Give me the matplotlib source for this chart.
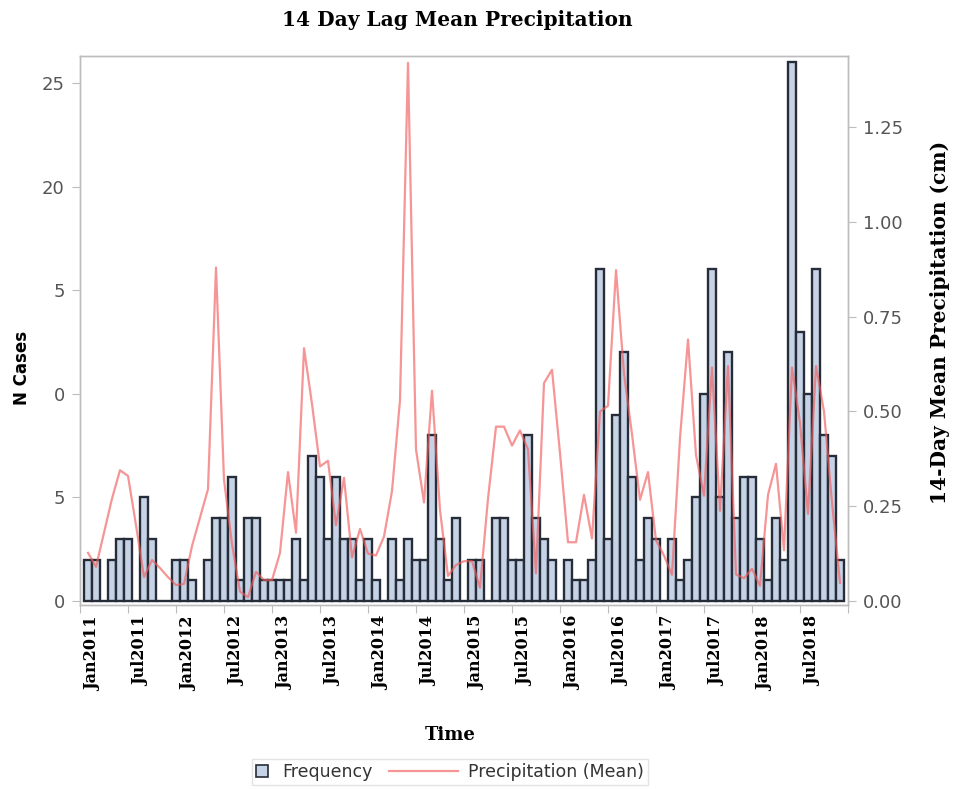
import numpy as np
import matplotlib
matplotlib.use("Agg")
import matplotlib.pyplot as plt
from matplotlib.patches import Patch, Rectangle
from matplotlib.lines import Line2D
from matplotlib.legend_handler import HandlerPatch

# monthly case counts (bars), Jan2011 onwards
cases = [2, 2, 0, 2, 3, 3, 0, 5, 3, 0, 0, 2, 2, 1, 0, 2, 4, 4, 6, 1, 4, 4, 1, 1,
         1, 1, 3, 1, 7, 6, 3, 6, 3, 3, 1, 3, 1, 0, 3, 1, 3, 2, 2, 8, 3, 1, 4, 0,
         2, 2, 0, 4, 4, 2, 2, 8, 4, 3, 2, 0, 2, 1, 1, 2, 16, 3, 9, 12, 6, 2, 4, 3,
         0, 3, 1, 2, 5, 10, 16, 5, 12, 4, 6, 6, 3, 1, 4, 2, 26, 13, 10, 16, 8, 7, 2]

# 14 day lag mean precipitation (cm)
precip = [0.127, 0.09, 0.18, 0.27, 0.345, 0.33, 0.2, 0.063, 0.108, 0.087, 0.063, 0.042,
          0.045, 0.145, 0.22, 0.295, 0.88, 0.32, 0.15, 0.025, 0.01, 0.077, 0.055, 0.055,
          0.127, 0.34, 0.18, 0.667, 0.52, 0.355, 0.37, 0.2, 0.325, 0.115, 0.19, 0.125,
          0.12, 0.17, 0.29, 0.53, 1.42, 0.4, 0.26, 0.555, 0.24, 0.066, 0.095, 0.105,
          0.105, 0.035, 0.27, 0.46, 0.46, 0.41, 0.45, 0.4, 0.073, 0.575, 0.61, 0.39,
          0.155, 0.155, 0.28, 0.165, 0.5, 0.515, 0.873, 0.6, 0.44, 0.267, 0.34, 0.16,
          0.12, 0.069, 0.43, 0.69, 0.385, 0.278, 0.616, 0.238, 0.62, 0.07, 0.06, 0.085,
          0.04, 0.28, 0.362, 0.134, 0.616, 0.47, 0.23, 0.62, 0.5, 0.26, 0.048]

tick_labels = ["Jan2011", "Jul2011", "Jan2012", "Jul2012", "Jan2013", "Jul2013",
               "Jan2014", "Jul2014", "Jan2015", "Jul2015", "Jan2016", "Jul2016",
               "Jan2017", "Jul2017", "Jan2018", "Jul2018"]
left_ticks = [0, 5, 10, 15, 20, 25]
left_labels = ["0", "5", "0", "5", "20", "25"]  # as printed on the chart
right_ticks = [0.0, 0.25, 0.5, 0.75, 1.0, 1.25]

bar_face = "#c6d3e6"
bar_edge = "#262d38"
line_col = "#f25c5c"
frame_col = "#bdbdbd"
tick_col = "#555555"

fig = plt.figure(figsize=(9.67, 7.89), dpi=100)
ax = fig.add_axes([80/967, 1-605/789, (848-80)/967, (605-56)/789])

x = np.arange(len(cases)) + 1
ax.bar(x, cases, width=1.0, color=bar_face, edgecolor=bar_edge, linewidth=1.7, zorder=2)
ax.set_xlim(0, 96)
ax.set_ylim(-0.19, 26.3)

ax2 = ax.twinx()
ax2.plot(np.arange(len(precip)) + 1, precip, color=line_col, lw=1.6, alpha=0.65, zorder=3)
ax2.set_ylim(-0.0106, 1.438)

for a in (ax, ax2):
    for s in a.spines.values():
        s.set_color(frame_col)
        s.set_linewidth(1.0)

# tick marks every 6 months, labels shifted a bit to the right
ax.set_xticks(np.arange(0, 97, 6))
ax.set_xticklabels([])
ax.set_xticks(np.arange(0, 96, 6) + 1.6, minor=True)
ax.set_xticklabels(tick_labels, minor=True, rotation=90, fontsize=11.5,
                   family="DejaVu Serif", fontweight="bold", color="black")
ax.tick_params(axis="x", which="major", length=6, color=frame_col, direction="out")
ax.tick_params(axis="x", which="minor", length=0, pad=8)

ax.set_yticks(left_ticks)
ax.set_yticklabels(left_labels, fontsize=13, color=tick_col)
ax.tick_params(axis="y", length=6, color=frame_col, pad=5)

ax2.set_yticks(right_ticks)
ax2.set_yticklabels(["%.2f" % t for t in right_ticks], fontsize=13, color=tick_col)
ax2.tick_params(axis="y", length=6, color=frame_col, pad=5)

fig.text(457/967, 1-20/789, "14 Day Lag Mean Precipitation", ha="center", va="center",
         fontsize=14.5, family="DejaVu Serif", fontweight="bold")
fig.text(22/967, 1-368/789, "N Cases", rotation=90, ha="center", va="center",
         fontsize=12, fontweight="bold")
fig.text(450/967, 1-735/789, "Time", ha="center", va="center",
         fontsize=13, family="DejaVu Serif", fontweight="bold")
fig.text(940/967, 1-322/789, "14-Day Mean Precipitation (cm)", rotation=90,
         ha="center", va="center", fontsize=14.5, family="DejaVu Serif", fontweight="bold")


def square_patch(legend, orig_handle, xdescent, ydescent, width, height, fontsize):
    side = height * 1.0
    return Rectangle((-xdescent, -ydescent + (height - side) / 2), side, side)


handles = [Patch(facecolor=bar_face, edgecolor=bar_edge, linewidth=1.2),
           Line2D([0], [0], color=line_col, lw=1.6, alpha=0.65)]
leg = fig.legend(handles, ["Frequency", "Precipitation (Mean)"], loc="center",
                 bbox_to_anchor=(450/967, 1-772/789), ncol=2, fontsize=12.5,
                 frameon=True, fancybox=False, handlelength=0.9, columnspacing=4.0,
                 borderpad=0.25, handletextpad=0.6,
                 handler_map={Patch: HandlerPatch(patch_func=square_patch)})
leg.get_frame().set_edgecolor("#dddddd")
for t in leg.get_texts():
    t.set_color("#333333")

# stretch the line sample leftwards into the column gap
leg_line = leg.get_lines()[0]
xd = np.asarray(leg_line.get_xdata(), dtype=float)
leg_line.set_xdata(np.linspace(xd.min() - 38, xd.max(), len(xd)))

fig.savefig("out.png", dpi=100)
